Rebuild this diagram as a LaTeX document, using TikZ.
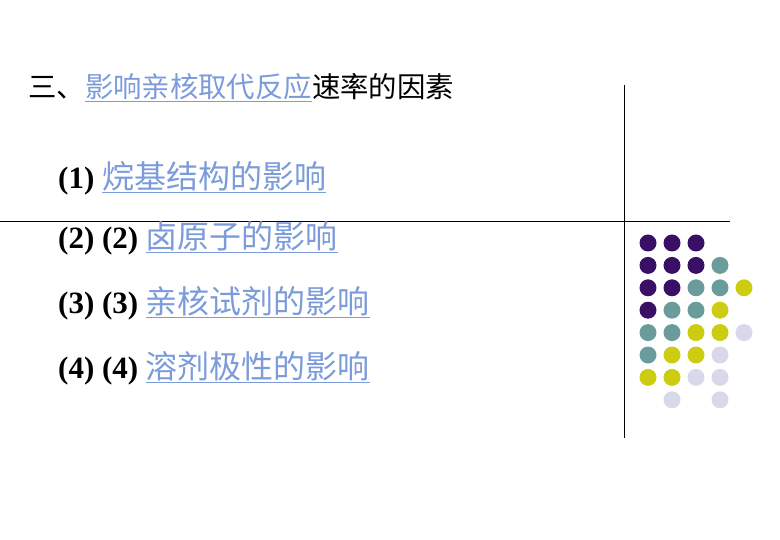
\documentclass[tikz,border=0pt]{standalone}
\usepackage{fontspec}
\setmainfont{Liberation Serif}
\newfontfamily\cjk{Noto Sans CJK SC}
\definecolor{lnk}{HTML}{7C9BDB}
\definecolor{cP}{HTML}{3A0F66}
\definecolor{cT}{HTML}{6A9C9C}
\definecolor{cY}{HTML}{CCCC11}
\definecolor{cL}{HTML}{D8D8EA}
\newcommand{\lk}[1]{\textcolor{lnk}{\underline{#1}}}
\newcommand{\zh}[1]{{\cjk\fontsize{32}{34}\selectfont\lk{#1}}}
\begin{document}
\begin{tikzpicture}[x=1pt,y=-1pt,
  item/.style={anchor=west,inner sep=0pt,font=\fontsize{31}{34}\selectfont},
  dot/.style={circle,inner sep=0pt,minimum size=17pt}]
\useasboundingbox (0,0) rectangle (780,540);
\draw[line width=0.8pt] (624,85) -- (624,438);
\draw[line width=0.8pt] (0,221) -- (730,221);
\node[item,font=\fontsize{28.4}{30}\selectfont] (t) at (28,88) {\cjk 三、\lk{影响亲核取代反应}速率的因素};
\node[item] (a) at (58,178) {\textbf{(1)} \zh{烷基结构的影响}};
\node[item] (b) at (58,238) {\textbf{(2) (2)} \zh{卤原子的影响}};
\node[item] (c) at (58,303) {\textbf{(3) (3)} \zh{亲核试剂的影响}};
\node[item] (d) at (58,368) {\textbf{(4) (4)} \zh{溶剂极性的影响}};
\foreach \row [count=\r from 0] in {{P,P,P,N,N},{P,P,P,T,N},{P,P,T,T,Y},{P,T,T,Y,N},{T,T,Y,Y,L},{T,Y,Y,L,N},{Y,Y,L,L,N},{N,L,N,L,N}}{
  \foreach \c [count=\k from 0] in \row {
    \if\c N\else
      \node[dot,fill=c\c] (d\r\k) at ({648+24*\k},{243+22.4*\r}) {};
    \fi
  }
}
\end{tikzpicture}
\end{document}
